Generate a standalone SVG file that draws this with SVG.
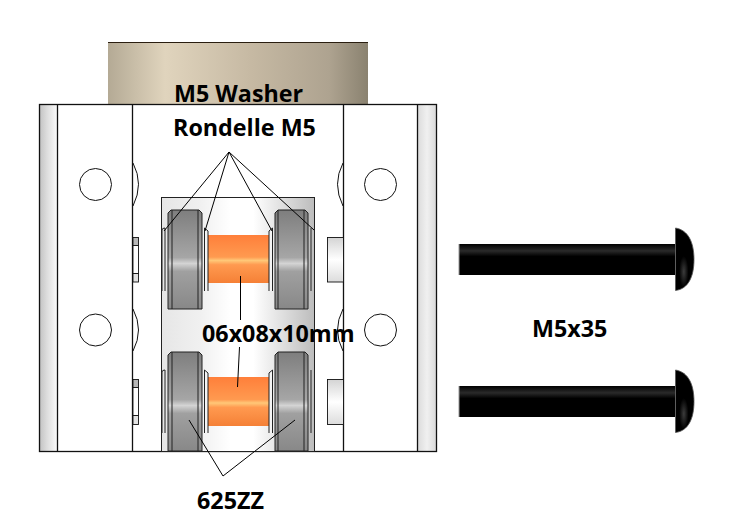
<svg xmlns="http://www.w3.org/2000/svg" xmlns:xlink="http://www.w3.org/1999/xlink" width="741" height="529" viewBox="0 0 741 529">
<style>
.o{stroke:#111;stroke-width:1.3;fill:none}
.f{stroke:#222;stroke-width:1}
.n{fill:none;stroke:#222;stroke-width:1}
.t{stroke:#111;stroke-width:.9;fill:#fff}
.l{stroke:#000;stroke-width:1;fill:none}
.lbl{font-family:"Open Sans","Noto Sans",sans-serif;font-weight:700;font-size:23.3px;fill:#000}
</style>
<defs>
<linearGradient id="gW" x1="0" x2="1" y1="0" y2="0"><stop offset="0" stop-color="#b4aa95"/><stop offset=".22" stop-color="#e0d4bd"/><stop offset=".55" stop-color="#c6b9a3"/><stop offset=".85" stop-color="#aea390"/><stop offset="1" stop-color="#8a8270"/></linearGradient>
<linearGradient id="gL" x1="0" x2="1" y1="0" y2="0"><stop offset="0" stop-color="#c4c4c4"/><stop offset=".4" stop-color="#dcdcdc"/><stop offset="1" stop-color="#fafafa"/></linearGradient>
<linearGradient id="gR" x1="0" x2="1" y1="0" y2="0"><stop offset="0" stop-color="#dcdcdc"/><stop offset=".5" stop-color="#f0f0f0"/><stop offset="1" stop-color="#dadada"/></linearGradient>
<linearGradient id="gB" x1="0" x2="1" y1="0" y2="0"><stop offset="0" stop-color="#e6e6e6"/><stop offset=".25" stop-color="#f0f0f0"/><stop offset=".45" stop-color="#ffffff"/><stop offset=".6" stop-color="#ffffff"/><stop offset="1" stop-color="#bcbcbc"/></linearGradient>
<linearGradient id="gBr" x1="0" x2="0" y1="0" y2="1"><stop offset="0" stop-color="#7e7e7e"/><stop offset=".48" stop-color="#a6a6a6"/><stop offset=".54" stop-color="#d4d4d4"/><stop offset=".62" stop-color="#a0a0a0"/><stop offset="1" stop-color="#888888"/></linearGradient>
<linearGradient id="gS" x1="0" x2="0" y1="0" y2="1"><stop offset="0" stop-color="#ff7f3a"/><stop offset=".46" stop-color="#ff9a50"/><stop offset=".53" stop-color="#ffc878"/><stop offset=".62" stop-color="#ff9a50"/><stop offset="1" stop-color="#f58036"/></linearGradient>
<linearGradient id="gT" x1="0" x2="0" y1="0" y2="1"><stop offset="0" stop-color="#d4d4d4"/><stop offset=".5" stop-color="#ffffff"/><stop offset="1" stop-color="#dcdcdc"/></linearGradient>
<linearGradient id="gSc" x1="0" x2="0" y1="0" y2="1"><stop offset="0" stop-color="#000"/><stop offset=".22" stop-color="#2a2a2a"/><stop offset=".4" stop-color="#000"/><stop offset="1" stop-color="#000"/></linearGradient>
<radialGradient id="gH" cx=".45" cy=".7" r=".25"><stop offset="0" stop-color="#3c3c3c"/><stop offset="1" stop-color="#000"/></radialGradient>
<g id="bearing">
<path d="M162 81 V20 Q162 18 165 18 M165 18 V81" class="n"/>
<path d="M168 3 L171 0 H199 L202 3 V99 H168 Z" fill="url(#gBr)" class="f"/>
<line x1="172" y1="0" x2="172" y2="99" class="f"/>
<line x1="198" y1="0" x2="198" y2="99" class="f"/>
<path d="M204.500 81 V18 L208 21 V81" fill="#f4f4f4" class="f"/>
</g>
<g id="bearingR">
<path d="M269 81 V21 L272.500 18 V81" fill="#f4f4f4" class="f"/>
<path d="M275 3 L278 0 H305 L308 3 V99 H275 Z" fill="url(#gBr)" class="f"/>
<line x1="278" y1="0" x2="278" y2="99" class="f"/>
<line x1="304" y1="0" x2="304" y2="99" class="f"/>
<path d="M311 18 V81" class="n"/>
</g>
<g id="screw">
<rect x="459" y="0" width="216" height="31" fill="url(#gSc)"/>
<line x1="459" y1="0" x2="459" y2="31" stroke="#999" stroke-width="1"/>
<path d="M675.500 -16 C688 -14 694 -2 694 15.500 C694 33 688 45 675.500 46.500 Z" fill="url(#gH)" stroke="#555" stroke-width=".8"/>
</g>
</defs>

<g id="washer">
<rect x="108" y="42" width="260" height="62" fill="url(#gW)"/>
<line x1="108" y1="42.500" x2="368" y2="42.500" stroke="#2a1e10" stroke-width="1"/>
</g>

<g id="plate">
<rect x="39.500" y="104.500" width="397" height="347" fill="#fff"/>
<rect x="40" y="105" width="17" height="346" fill="url(#gL)"/>
<rect x="418" y="105" width="18" height="346" fill="url(#gR)"/>
<rect x="39.500" y="104.500" width="397" height="347" class="o"/>
<g class="o">
<line x1="57.500" y1="104.500" x2="57.500" y2="451.500"/>
<line x1="132.500" y1="104.500" x2="132.500" y2="451.500"/>
<line x1="343.500" y1="104.500" x2="343.500" y2="451.500"/>
<line x1="417.500" y1="104.500" x2="417.500" y2="451.500"/>
</g>
<g fill="none" stroke="#111" stroke-width="1">
<circle cx="95.500" cy="184.500" r="16"/>
<circle cx="380.500" cy="184.500" r="16"/>
<circle cx="95.500" cy="330" r="16"/>
<circle cx="380.500" cy="330" r="16"/>
<path d="M133 163 Q144 184 133 206"/>
<path d="M133 309 Q144 330 133 351"/>
<path d="M343 163 Q332 184 343 206"/>
<path d="M343 309 Q332 330 343 351"/>
</g>
<g class="t">
<rect x="133" y="237.500" width="5.500" height="8" fill="#b8b8b8"/>
<rect x="133" y="245.500" width="5.500" height="28"/>
<rect x="133" y="273.500" width="5.500" height="8.500" fill="#e2e2e2"/>
<rect x="133" y="379.500" width="5.500" height="8" fill="#b8b8b8"/>
<rect x="133" y="387.500" width="5.500" height="28"/>
<rect x="133" y="415.500" width="5.500" height="9" fill="#e2e2e2"/>
<rect x="327.500" y="237.500" width="16" height="44.500" fill="url(#gT)"/>
<rect x="327.500" y="379.500" width="16" height="45" fill="url(#gT)"/>
</g>
</g>

<g id="housing">
<rect x="161.500" y="197.500" width="153" height="254" fill="url(#gB)" class="f"/>
</g>

<g id="upper-sleeve"><rect x="208" y="235" width="61" height="48" fill="url(#gS)"/></g>
<g id="lower-sleeve"><rect x="208" y="377" width="61" height="49" fill="url(#gS)"/></g>
<g id="upper-left-bearing"><use xlink:href="#bearing" href="#bearing" y="210"/></g>
<g id="upper-right-bearing"><use xlink:href="#bearingR" href="#bearingR" y="210"/></g>
<g id="lower-left-bearing"><use xlink:href="#bearing" href="#bearing" y="352"/></g>
<g id="lower-right-bearing"><use xlink:href="#bearingR" href="#bearingR" y="352"/></g>

<g id="screw-top"><use xlink:href="#screw" href="#screw" y="244"/></g>
<g id="screw-bottom"><use xlink:href="#screw" href="#screw" y="386"/></g>

<g id="connectors" class="l">
<path d="M164 231 L229 152 L205 231"/>
<path d="M272 231 L229 152 L314 230"/>
<line x1="240.500" y1="276" x2="240.500" y2="320"/>
<path d="M239.500 347 L237.500 387"/>
<path d="M189 420 L223 476 L295 420"/>
</g>

<g id="labels">
<text class="lbl" x="174" y="102">M5 Washer</text>
<text class="lbl" x="173" y="136">Rondelle M5</text>
<text class="lbl" x="202" y="342">06x08x10mm</text>
<text class="lbl" x="197" y="509">625ZZ</text>
<text class="lbl" x="532" y="337">M5x35</text>
</g>
</svg>
